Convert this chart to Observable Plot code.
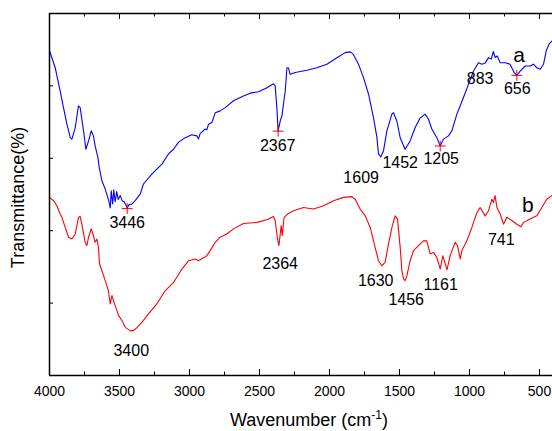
<!DOCTYPE html>
<html><head><meta charset="utf-8">
<script src="https://cdn.jsdelivr.net/npm/d3@7"></script>
<script src="https://cdn.jsdelivr.net/npm/@observablehq/plot@0.6"></script>
<style>body{margin:0;background:#fff} svg{display:block}</style>
</head><body><div id="chart"></div>
<script>
// Curve a (blue)
const waveA = [4000,3959,3924,3900,3876,3852,3840,3816,3793,3781,3757,3740,3721,3702,3686,3674,3654,3645,3626,3602,
  3588,3577,3566,3559,3549,3541,3531,3520,3509,3495,3481,3466,3452,3445,3431,3411,3388,3352,3329,3269,3197,3150,3114,
  3079,3031,2983,2947,2936,2924,2888,2876,2864,2840,2816,2781,2745,2686,2614,2566,2507,2447,2400,2388,2376,2367,2352,
  2340,2316,2304,2293,2281,2245,2161,2090,2019,1947,1888,1852,1829,1793,1757,1721,1686,1661,1650,1633,1614,1590,1554,
  1543,1519,1495,1460,1424,1388,1353,1317,1293,1269,1233,1209,1186,1150,1126,1090,1066,1043,1007,971,936,911,888,864,
  845,829,817,802,781,745,710,681,662,638,602,567,543,519,495,471,452,431,410];
const transA = [89.7,85.0,78.6,74.0,69.5,65.7,65.3,68.5,74.5,74.0,67.6,62.5,64.8,67.6,66.2,63.4,60.2,57.5,53.8,51.5,
  49.7,48.3,46.3,51.0,47.4,51.3,48.0,50.8,48.6,49.7,48.3,48.0,46.9,46.3,47.2,47.4,48.3,50.1,52.9,55.6,58.4,61.2,62.5,
  64.4,65.7,66.5,66.2,65.3,66.8,68.1,67.9,69.4,69.9,72.6,73.1,74.0,75.9,77.2,78.0,78.4,79.5,80.6,80.0,74.0,67.6,70.3,
  71.7,78.6,85.0,85.0,83.2,83.7,84.3,85.0,86.0,87.8,89.2,89.4,88.7,86.0,82.3,77.7,71.3,65.7,61.2,60.4,62.1,67.6,72.2,
  72.6,70.3,65.7,62.5,64.8,68.5,71.1,72.2,70.8,68.1,65.7,63.4,65.3,66.2,67.6,72.2,74.5,76.8,80.5,84.1,86.4,86.0,86.3,87.8,
  87.4,89.5,87.8,88.3,86.4,86.4,86.0,83.7,82.9,84.1,85.5,85.5,86.0,85.0,84.6,86.0,89.7,91.6,92.4];

// Curve b (red)
const waveB = [4000,3971,3947,3924,3911,3888,3864,3840,3816,3793,3781,3769,3745,3733,3721,3702,3686,3674,3661,3650,
  3643,3626,3602,3579,3566,3554,3543,3531,3507,3483,3459,3424,3400,3376,3340,3293,3233,3174,3114,3054,3007,2959,2936,
  2900,2876,2852,2816,2781,2733,2686,2614,2519,2447,2400,2388,2371,2361,2352,2345,2338,2324,2300,2257,2186,2114,2043,
  1971,1900,1840,1816,1781,1745,1709,1674,1650,1626,1602,1579,1554,1531,1514,1495,1483,1471,1459,1447,1424,1400,1364,
  1329,1305,1281,1257,1233,1209,1190,1161,1138,1102,1086,1066,1054,1019,983,947,924,888,864,840,829,817,804,781,757,
  733,698,662,633,614,567,519,483,448,412];
const transB = [49.2,48.3,46.9,44.6,43.7,40.9,38.2,37.7,39.1,43.7,43.9,41.8,36.8,35.9,38.2,40.5,38.6,36.8,37.7,35.4,
  30.8,29.0,26.2,23.4,19.8,22.1,20.7,19.3,16.6,15.2,13.3,12.4,12.4,13.2,14.7,17.0,19.8,23.4,25.7,29.4,31.7,32.2,31.7,
  32.5,33.1,34.5,36.8,38.2,39.1,40.5,42.0,42.3,43.0,43.9,42.8,37.7,35.9,39.1,41.4,38.6,43.7,44.6,45.5,46.4,46.0,46.9,
  48.3,49.2,49.4,48.7,46.0,44.1,40.9,35.4,31.7,30.3,31.3,36.3,40.9,44.1,43.2,35.4,29.0,26.7,26.2,27.6,31.7,34.5,35.9,
  37.2,37.2,33.6,34.0,32.6,29.4,33.1,29.2,33.1,36.8,35.9,32.2,34.5,37.2,40.9,45.0,46.4,44.1,45.5,48.7,47.8,49.7,46.4,44.6,41.8,
  43.7,42.8,41.8,41.1,42.3,43.2,44.1,46.4,48.7,49.7];

// Peak markers on curve a
const markWave = [3445, 2367, 1209, 662];
const markTrans = [46.1, 67.5, 63.4, 82.9];

// Peak labels
const labelText  = ["3446","2367","1609","1452","1205","883","656","a","3400","2364","1630","1456","1161","741","b"];
const labelWave  = [3445, 2370, 1774, 1495, 1202, 924, 659, 645, 3416, 2352, 1670, 1452, 1206, 773, 584];
const labelTrans = [42.2, 63.4, 54.7, 58.8, 59.8, 82.0, 79.1, 88.6, 6.9, 30.8, 26.2, 20.9, 25.1, 37.4, 46.9];
const labelBig   = ["a", "b"];

// Ticks
const xMajorTicks = [4000,3500,3000,2500,2000,1500,1000,500];
const xMinorTicks = [3750,3250,2750,2250,1750,1250,750];
const yTicks = [0,20,40,60,80,100];

const rowsA = waveA.map((w,i) => ({w, t: transA[i]}));
const rowsB = waveB.map((w,i) => ({w, t: transB[i]}));
const marks = markWave.map((w,i) => ({w, t: markTrans[i]}));
const labels = labelText.map((s,i) => ({s, w: labelWave[i], t: labelTrans[i], big: labelBig.includes(s)}));

const W = 552, H = 431, mL = 49, mR = 0, mT = 13, mB = 56;
const frameH = H - mT - mB, frameW = W - mL - mR;

const plot = Plot.plot({
  width: W, height: H,
  marginLeft: mL, marginRight: mR, marginTop: mT, marginBottom: mB,
  style: {fontFamily: "'Liberation Sans', Arial, sans-serif", background: "#fff", color: "#000"},
  x: {domain: [4000, 407], axis: null},
  y: {domain: [0, 100], axis: null},
  marks: [
    Plot.line(rowsA, {x: "w", y: "t", stroke: "#0000ff", strokeWidth: 1.1}),
    Plot.line(rowsB, {x: "w", y: "t", stroke: "#ff0000", strokeWidth: 1.1}),
    Plot.dot(marks, {x: "w", y: "t", symbol: "plus", r: 3.6, stroke: "#ff0000", strokeWidth: 1}),
    Plot.text(labels.filter(d => !d.big), {x: "w", y: "t", text: "s", fontSize: 16, fill: "#000", textAnchor: "middle", lineAnchor: "middle"}),
    Plot.text(labels.filter(d => d.big), {x: "w", y: "t", text: "s", fontSize: 21, fill: "#000", textAnchor: "middle", lineAnchor: "middle"}),
    // frame
    Plot.ruleY([0, 100], {stroke: "#000", strokeWidth: 1.5}),
    Plot.ruleX([4000], {stroke: "#000", strokeWidth: 1.5}),
    // bottom ticks (inward)
    Plot.tickX(xMajorTicks, {x: d => d, insetTop: frameH - 6, stroke: "#000", strokeWidth: 1}),
    Plot.tickX(xMinorTicks, {x: d => d, insetTop: frameH - 3.5, stroke: "#000", strokeWidth: 1}),
    // top ticks (inward)
    Plot.tickX(xMajorTicks, {x: d => d, insetBottom: frameH - 6, stroke: "#000", strokeWidth: 1}),
    Plot.tickX(xMinorTicks, {x: d => d, insetBottom: frameH - 3.5, stroke: "#000", strokeWidth: 1}),
    // left ticks (inward)
    Plot.tickY(yTicks, {y: d => d, insetRight: frameW - 4, stroke: "#000", strokeWidth: 1}),
    Plot.axisX(xMajorTicks, {anchor: "bottom", tickSize: 0, tickPadding: 11, fontSize: 14, tickFormat: d => String(d), label: null}),
    Plot.text(["Wavenumber (cm-1)"], {frameAnchor: "bottom", dx: 8, dy: 45, fontSize: 18, textAnchor: "middle", lineAnchor: "middle", fill: "#000"}),
    Plot.text(["Transmittance(%)"], {frameAnchor: "left", dx: -31, dy: 3, rotate: -90, fontSize: 18, textAnchor: "middle", lineAnchor: "middle", fill: "#000"})
  ]
});

document.getElementById("chart").appendChild(plot);

d3.select(plot).selectAll("text").filter(function() { return this.textContent === "Wavenumber (cm-1)"; })
  .each(function() {
    const t = d3.select(this);
    t.text("");
    t.append("tspan").text("Wavenumber (cm");
    t.append("tspan").attr("dy", "-7").attr("font-size", "12").text("-1");
    t.append("tspan").attr("dy", "7").text(")");
  });
</script>
</body></html>
